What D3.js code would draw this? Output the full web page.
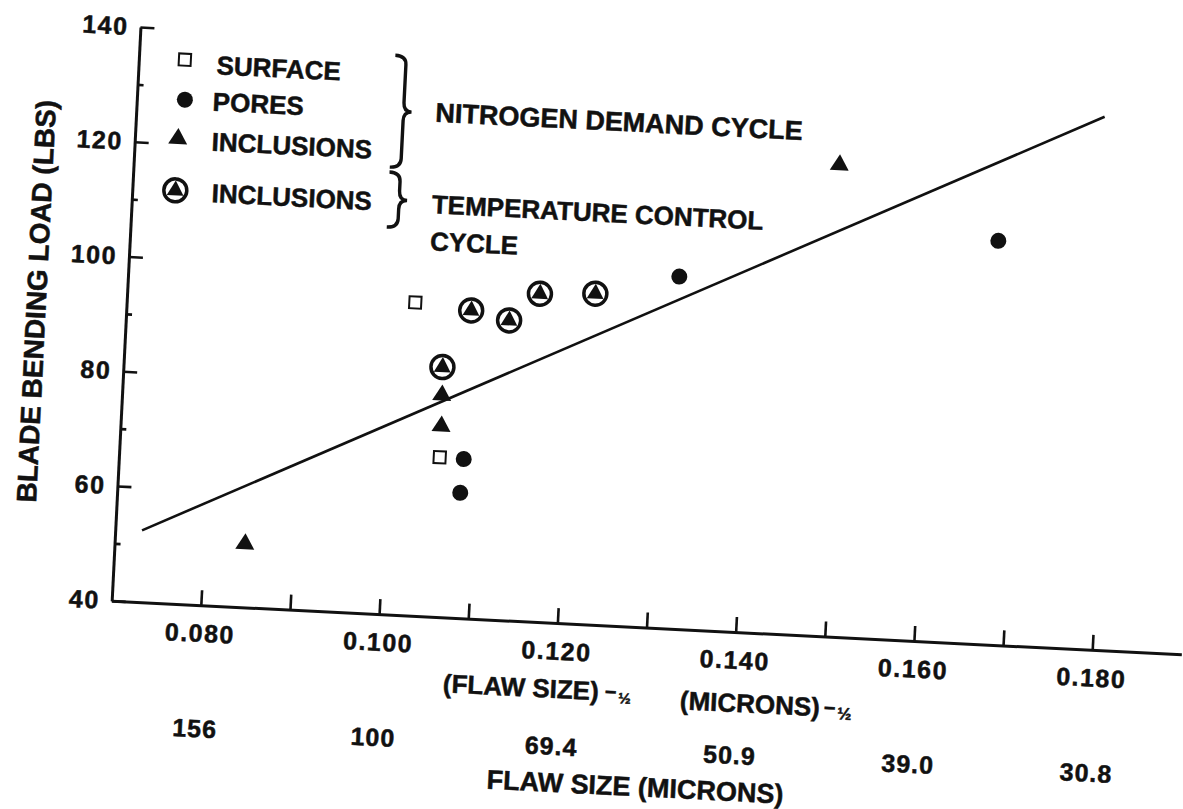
<!DOCTYPE html>
<html>
<head>
<meta charset="utf-8">
<script src="https://cdn.jsdelivr.net/npm/d3@7"></script>
<style>
  body { margin: 0; background: #fff; }
  svg { display: block; font-family: "Liberation Sans", Arial, sans-serif; font-weight: bold; }
  text { fill: #111; stroke: #111; stroke-width: 0.5px; }
</style>
</head>
<body>
<svg id="chart" width="1183" height="809"></svg>
<script>
// (flaw size)^-1/2 vs blade bending load
var surface = [[0.1023, 94.5], [0.1059, 67.8]];
var pores = [[0.1084, 61.8], [0.1086, 67.7], [0.1317, 101.3], [0.1672, 110.3]];
var inclusionsN2 = [[0.0846, 51.4], [0.1059, 73.6], [0.1058, 79.0], [0.149, 122.5]];
var inclusionsTemp = [[0.1057, 83.5], [0.1086, 93.6], [0.1129, 92.2], [0.1162, 97.1], [0.1224, 97.6]];
var fitLine = [[0.073, 52.5], [0.1784, 132.8]];

var xTicks = [0.08, 0.09, 0.10, 0.11, 0.12, 0.13, 0.14, 0.15, 0.16, 0.17, 0.18];
var xLabelTicks = [0.08, 0.10, 0.12, 0.14, 0.16, 0.18];
var micronLabels = ["156", "100", "69.4", "50.9", "39.0", "30.8"];
var yTicks = [40, 60, 80, 100, 120, 140];
var yMinorTicks = [50, 70, 90, 110, 130];

var svg = d3.select("#chart");

// the scanned figure sits a little crooked, so the whole frame is turned
var H = 574.4, W = 1071;
var frame = svg.append("g")
    .attr("transform", "translate(111.7,600.7) rotate(2.87)");

var x = d3.scaleLinear().domain([0.07, 0.19]).range([0, W]);
var y = d3.scaleLinear().domain([40, 140]).range([0, -H]);

// y axis
frame.append("g")
    .attr("class", "axis")
    .call(d3.axisLeft(y)
      .tickValues(yTicks)
      .tickSizeInner(-14)
      .tickSizeOuter(0)
      .tickPadding(12));

frame.append("g")
    .attr("class", "axis minor")
    .call(d3.axisLeft(y)
      .tickValues(yMinorTicks)
      .tickSize(-6)
      .tickFormat(""))
    .select(".domain").remove();

// x axis, every other tick labelled
frame.append("g")
    .attr("class", "axis")
    .call(d3.axisBottom(x)
      .tickValues(xTicks)
      .tickSizeInner(-15)
      .tickSizeOuter(0)
      .tickPadding(19)
      .tickFormat(function(d) {
        return Math.round(d * 1000) % 20 === 0 ? d3.format(".3f")(d) : "";
      }));

frame.selectAll(".axis")
    .attr("font-family", null)
    .attr("font-size", null);
frame.selectAll(".axis .domain").attr("stroke", "#111").attr("stroke-width", 3);
frame.selectAll(".axis line").attr("stroke", "#111").attr("stroke-width", 2.6);
frame.selectAll(".axis text")
    .attr("fill", "#111")
    .style("font-size", "25px")
    .style("letter-spacing", "1.5px");

// second row: flaw size in microns under the labelled ticks
frame.append("g").selectAll("text")
    .data(xLabelTicks)
  .enter().append("text")
    .attr("x", function(d) { return x(d); })
    .attr("y", 132)
    .attr("text-anchor", "middle")
    .style("font-size", "25px")
    .style("letter-spacing", "1px")
    .text(function(d, i) { return micronLabels[i]; });

// axis titles
frame.append("text")
    .attr("transform", "translate(-80.6,-295.5) rotate(-90)")
    .attr("text-anchor", "middle")
    .style("font-size", "28px")
    .text("BLADE BENDING LOAD (LBS)");

var t1 = frame.append("text")
    .attr("x", 335)
    .attr("y", 75)
    .style("font-size", "26px")
    .text("(FLAW SIZE)");
t1.append("tspan").style("font-size", "20px").attr("dx", 6).attr("dy", -2).text("−");
t1.append("tspan").style("font-size", "15px").attr("dx", 2).attr("dy", 4).text("½");

var t2 = frame.append("text")
    .attr("x", 572.6)
    .attr("y", 80)
    .style("font-size", "26px")
    .text("(MICRONS)");
t2.append("tspan").style("font-size", "20px").attr("dx", 4).attr("dy", -2).text("−");
t2.append("tspan").style("font-size", "17px").attr("dx", 2).attr("dy", 4).text("½");

frame.append("text")
    .attr("x", 532)
    .attr("y", 169)
    .attr("text-anchor", "middle")
    .style("font-size", "27px")
    .text("FLAW SIZE (MICRONS)");

// fitted line
frame.append("path")
    .datum(fitLine)
    .attr("fill", "none")
    .attr("stroke", "#111")
    .attr("stroke-width", 2.6)
    .attr("d", d3.line()
      .x(function(d) { return x(d[0]); })
      .y(function(d) { return y(d[1]); }));

// marker shapes
function drawSquare(g) {
  g.append("rect")
      .attr("x", -6).attr("y", -6)
      .attr("width", 12).attr("height", 12)
      .attr("fill", "#fff")
      .attr("stroke", "#111")
      .attr("stroke-width", 2);
}
function drawDot(g) {
  g.append("circle").attr("r", 8).attr("fill", "#111");
}
function drawTriangle(g) {
  g.append("path").attr("d", "M0,-8.5L9.5,7.5L-9.5,7.5Z").attr("fill", "#111");
}
function drawRingTriangle(g) {
  g.append("circle")
      .attr("r", 11.5)
      .attr("fill", "#fff")
      .attr("stroke", "#111")
      .attr("stroke-width", 3.5);
  g.append("path").attr("d", "M0,-10L8.4,5L-8.4,5Z").attr("fill", "#111");
}

var series = [
  {data: surface, draw: drawSquare},
  {data: pores, draw: drawDot},
  {data: inclusionsN2, draw: drawTriangle},
  {data: inclusionsTemp, draw: drawRingTriangle}
];

series.forEach(function(s) {
  frame.append("g").selectAll("g")
      .data(s.data)
    .enter().append("g")
      .attr("transform", function(d) { return "translate(" + x(d[0]) + "," + y(d[1]) + ")"; })
      .each(function() { s.draw(d3.select(this)); });
});

// legend
var legend = frame.append("g");
var legendRows = [
  {label: "SURFACE", draw: drawSquare, sx: 46, sy: -544, tx: 78, ty: -531},
  {label: "PORES", draw: drawDot, sx: 48, sy: -504, tx: 76, ty: -494.5},
  {label: "INCLUSIONS", draw: drawTriangle, sx: 43, sy: -467, tx: 77, ty: -454.5},
  {label: "INCLUSIONS", draw: drawRingTriangle, sx: 43, sy: -413, tx: 79.5, ty: -403}
];
legendRows.forEach(function(r) {
  var g = legend.append("g").attr("transform", "translate(" + r.sx + "," + r.sy + ")");
  r.draw(g);
  legend.append("text")
      .attr("x", r.tx)
      .attr("y", r.ty)
      .style("font-size", "26px")
      .text(r.label);
});

function brace(x0, y1, y2) {
  var xm = x0 + 11, xt = x0 + 19, ym = (y1 + y2) / 2;
  return "M" + x0 + "," + y1 +
    "Q" + xm + "," + y1 + " " + xm + "," + (y1 + 9) +
    "L" + xm + "," + (ym - 9) +
    "Q" + xm + "," + ym + " " + xt + "," + ym +
    "Q" + xm + "," + ym + " " + xm + "," + (ym + 9) +
    "L" + xm + "," + (y2 - 9) +
    "Q" + xm + "," + y2 + " " + x0 + "," + y2;
}
legend.selectAll("path.brace")
    .data([[256, -559, -447], [256, -442, -387]])
  .enter().append("path")
    .attr("class", "brace")
    .attr("d", function(d) { return brace(d[0], d[1], d[2]); })
    .attr("fill", "none")
    .attr("stroke", "#111")
    .attr("stroke-width", 3.4);

legend.append("text")
    .attr("x", 299).attr("y", -494.6)
    .style("font-size", "27px")
    .text("NITROGEN DEMAND CYCLE");
legend.append("text")
    .attr("x", 300).attr("y", -403)
    .style("font-size", "26px")
    .text("TEMPERATURE CONTROL");
legend.append("text")
    .attr("x", 300).attr("y", -366)
    .style("font-size", "26px")
    .text("CYCLE");
</script>
</body>
</html>
